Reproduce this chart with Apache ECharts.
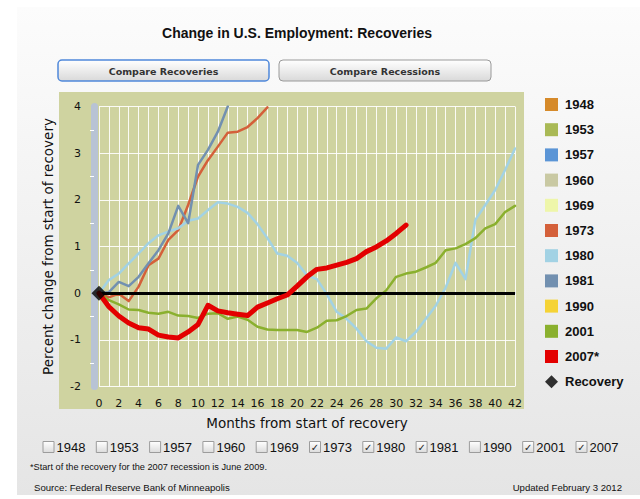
<!DOCTYPE html>
<html><head><meta charset="utf-8">
<script src="https://cdn.jsdelivr.net/npm/echarts@6/dist/echarts.min.js"></script>
<style>html,body{margin:0;padding:0;background:#fff;}#c{width:640px;height:499px;}</style>
</head><body><div id="c"></div>
<script>
// ---- data ----
const months = ['0','1','2','3','4','5','6','7','8','9','10','11','12','13','14','15','16','17','18','19','20','21','22','23','24','25','26','27','28','29','30','31','32','33','34','35','36','37','38','39','40','41','42'];
const yTicks = [-2, -1, 0, 1, 2, 3, 4];
const s1948 = [];
const s1953 = [];
const s1957 = [];
const s1960 = [];
const s1969 = [];
const s1973 = [0, -0.09, -0.01, -0.17, 0.14, 0.60, 0.74, 1.14, 1.35, 1.89, 2.50, 2.85, 3.14, 3.44, 3.46, 3.56, 3.75, 3.98];
const s1980 = [0, 0.28, 0.42, 0.64, 0.85, 1.07, 1.24, 1.32, 1.39, 1.55, 1.60, 1.78, 1.95, 1.92, 1.85, 1.72, 1.48, 1.18, 0.85, 0.80, 0.65, 0.38, 0.30, -0.02, -0.40, -0.55, -0.76, -1.03, -1.17, -1.19, -0.95, -1.03, -0.83, -0.55, -0.27, 0.12, 0.65, 0.30, 1.57, 1.89, 2.21, 2.64, 3.10];
const s1981 = [0, 0.02, 0.24, 0.15, 0.35, 0.64, 0.92, 1.28, 1.87, 1.50, 2.75, 3.07, 3.46, 4.00];
const s1990 = [];
const s2001 = [0, -0.15, -0.24, -0.35, -0.36, -0.42, -0.44, -0.40, -0.48, -0.49, -0.53, -0.44, -0.43, -0.55, -0.50, -0.57, -0.72, -0.78, -0.79, -0.79, -0.79, -0.83, -0.74, -0.59, -0.58, -0.49, -0.36, -0.33, -0.11, 0.06, 0.35, 0.42, 0.46, 0.55, 0.65, 0.92, 0.96, 1.05, 1.18, 1.39, 1.48, 1.74, 1.87];
const s2007 = [0, -0.29, -0.49, -0.64, -0.74, -0.77, -0.90, -0.94, -0.96, -0.83, -0.67, -0.26, -0.38, -0.42, -0.45, -0.48, -0.30, -0.21, -0.12, -0.04, 0.15, 0.35, 0.51, 0.54, 0.60, 0.66, 0.74, 0.89, 0.99, 1.12, 1.28, 1.46];
const recoveryPoint = [0, 0];
const zeroLineValue = 0;
const legendNames = ['1948','1953','1957','1960','1969','1973','1980','1981','1990','2001','2007*','Recovery'];
const checkboxLabels = ['1948','1953','1957','1960','1969','1973','1980','1981','1990','2001','2007'];
const checkboxChecked = [false,false,false,false,false,true,true,true,false,true,true];

// ---- styles ----
const seriesDefs = [
  {name:'1948', data:s1948, color:'#d68a2a', width:2.5},
  {name:'1953', data:s1953, color:'#a9b955', width:2.5},
  {name:'1957', data:s1957, color:'#5b95d6', width:2.5},
  {name:'1960', data:s1960, color:'#c9c9a3', width:2.5},
  {name:'1969', data:s1969, color:'#eef6aa', width:2.5},
  {name:'1973', data:s1973, color:'#d4603a', width:2.5},
  {name:'1980', data:s1980, color:'#a2d2e4', width:2.5},
  {name:'1981', data:s1981, color:'#7290b0', width:2.5},
  {name:'1990', data:s1990, color:'#f5d335', width:2.5},
  {name:'2001', data:s2001, color:'#8ab02e', width:2.5},
  {name:'2007*', data:s2007, color:'#e30000', width:5}
];

const series = seriesDefs.map((d, i) => ({
  type:'line', name:d.name, data:d.data, showSymbol:false, symbol:'none',
  lineStyle:{color:d.color, width:d.width, join:'round', cap:'round'},
  itemStyle:{color:d.color}, z: d.name === '2007*' ? 6 : 4, animation:false
}));
series.push({
  type:'line', name:'zero', data:[], z:3, animation:false,
  markLine:{silent:true, symbol:['none','none'], label:{show:false}, animation:false,
    lineStyle:{color:'#000', width:3, type:'solid'}, data:[{yAxis:zeroLineValue}]}
});
series.push({
  type:'scatter', name:'Recovery', data:[recoveryPoint], symbol:'diamond', symbolSize:15,
  itemStyle:{color:'#000'}, z:10, animation:false
});

const lg = (c0, c1) => new echarts.graphic.LinearGradient(0,0,0,1,[{offset:0,color:c0},{offset:1,color:c1}]);

const graphics = [
  {type:'rect', z:-20, shape:{x:17,y:7,width:623,height:488}, style:{fill:lg('#fcfcfc','#e5e5e5')}},
  {type:'rect', z:-19, shape:{x:59,y:92,width:465,height:317}, style:{fill:'#cfd3a0'}},
  {type:'text', x:297, y:33, style:{text:'Change in U.S. Employment: Recoveries', fill:'#111', fontFamily:'Liberation Sans', fontWeight:'bold', fontSize:14, align:'center', verticalAlign:'middle'}},
  {type:'rect', shape:{x:58,y:60,width:211,height:21,r:4}, style:{fill:lg('#ffffff','#d9d9d9'), stroke:'#4f88da', lineWidth:1.5}},
  {type:'text', x:163.5, y:71, style:{text:'Compare Recoveries', fill:'#333', fontFamily:'DejaVu Sans', fontWeight:'bold', fontSize:9.5, align:'center', verticalAlign:'middle'}},
  {type:'rect', shape:{x:279,y:60,width:212,height:21,r:4}, style:{fill:lg('#ffffff','#d9d9d9'), stroke:'#9a9a9a', lineWidth:1}},
  {type:'text', x:385, y:71, style:{text:'Compare Recessions', fill:'#333', fontFamily:'DejaVu Sans', fontWeight:'bold', fontSize:9.5, align:'center', verticalAlign:'middle'}},
  {type:'text', x:30, y:467, style:{text:'*Start of the recovery for the 2007 recession is June 2009.', fill:'#111', fontFamily:'Liberation Sans', fontSize:9.2, align:'left', verticalAlign:'middle'}},
  {type:'text', x:34, y:487, style:{text:'Source: Federal Reserve Bank of Minneapolis', fill:'#111', fontFamily:'Liberation Sans', fontSize:9.6, align:'left', verticalAlign:'middle'}},
  {type:'text', x:622, y:487, style:{text:'Updated February 3 2012', fill:'#111', fontFamily:'Liberation Sans', fontSize:9.6, align:'right', verticalAlign:'middle'}}
];
checkboxLabels.forEach((lab, i) => {
  const bx = 43 + i * 53.3;
  graphics.push({type:'rect', shape:{x:bx, y:441.5, width:11, height:11}, style:{fill:lg('#ffffff','#dcdcdc'), stroke:'#9c9c9c', lineWidth:1}});
  if (checkboxChecked[i]) {
    graphics.push({type:'text', x:bx+5.5, y:447.5, style:{text:'\u2713', fill:'#222', fontFamily:'DejaVu Sans', fontWeight:'bold', fontSize:10, align:'center', verticalAlign:'middle'}});
  }
  graphics.push({type:'text', x:bx+13.5, y:447.5, style:{text:lab, fill:'#111', fontFamily:'Liberation Sans', fontSize:13, align:'left', verticalAlign:'middle'}});
});

const option = {
  animation:false,
  backgroundColor:'#ffffff',
  grid:{left:99, right:125, top:106.5, bottom:112.5, containLabel:false},
  xAxis:{
    type:'category', data:months, boundaryGap:false,
    name:'Months from start of recovery', nameLocation:'middle', nameGap:29,
    nameTextStyle:{fontFamily:'DejaVu Sans', fontSize:13.5, color:'#111'},
    axisLine:{show:true, lineStyle:{color:'#c4cbd6', width:1.5}},
    axisTick:{show:false},
    axisLabel:{interval:1, fontFamily:'DejaVu Sans', fontSize:11, color:'#111', margin:11},
    splitLine:{show:true, interval:0, lineStyle:{color:'rgba(255,255,255,0.9)', width:1}}
  },
  yAxis:{
    type:'value', min:yTicks[0], max:yTicks[yTicks.length-1], interval:1, offset:5,
    name:'Percent change from start of recovery', nameLocation:'middle', nameGap:39, nameRotate:90,
    nameTextStyle:{fontFamily:'DejaVu Sans', fontSize:13.5, color:'#111'},
    axisLine:{show:true, lineStyle:{color:'#b8c3d4', width:7}},
    axisTick:{show:false},
    minorTick:{show:true, splitNumber:2, length:4, lineStyle:{color:'#ffffff', width:1}},
    axisLabel:{fontFamily:'DejaVu Sans', fontSize:11, color:'#111', margin:13},
    splitLine:{show:true, lineStyle:{color:'rgba(255,255,255,0.9)', width:1.2}}
  },
  legend:{
    orient:'vertical', left:540, top:93, itemWidth:13, itemHeight:13, itemGap:12.2,
    selectedMode:false,
    textStyle:{fontFamily:'Liberation Sans', fontWeight:'bold', fontSize:13, color:'#111', padding:[0,0,0,2]},
    data: legendNames.map(n => ({name:n, icon: n === 'Recovery' ? 'diamond' : 'rect'}))
  },
  graphic:{elements:graphics},
  series:series
};
const chart = echarts.init(document.getElementById('c'), null, {renderer:'svg'});
chart.setOption(option);
</script>
</body></html>
